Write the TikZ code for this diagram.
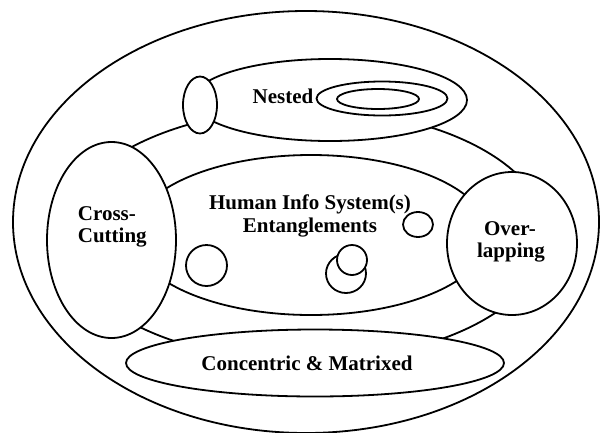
\documentclass[tikz,border=0pt]{standalone}
\usepackage{fontspec}
\setmainfont{Liberation Serif}
\usetikzlibrary{shapes.geometric}
\begin{document}
\begin{tikzpicture}[x=1pt,y=-1pt,
  line width=1.8pt,
  shp/.style={ellipse, draw, fill=white, inner sep=0pt, line width=1.8pt},
  ringline/.style={ellipse, draw, inner sep=0pt, line width=1.8pt},
  lbl/.style={font=\fontsize{21}{23}\selectfont\bfseries, inner sep=0pt},
]
\useasboundingbox (0,0) rectangle (603,432);
% outer boundary and ring
\node[shp, minimum width=586pt, minimum height=422pt] (outer) at (306,222) {};
\node[ringline, minimum width=484pt, minimum height=252pt] (ring) at (305,235) {};
% core
\node[shp, minimum width=356pt, minimum height=160pt] (core) at (311,235) {};
% ring members
\node[shp, minimum width=274pt, minimum height=82pt] (nested) at (330,100) {};
\node[shp, minimum width=34pt, minimum height=57pt] (knot) at (200,105) {};
\node[shp, minimum width=129pt, minimum height=196pt] (cross) at (111.5,240) {};
\node[shp, minimum width=130pt, minimum height=143pt] (over) at (512,243.5) {};
\node[shp, minimum width=378pt, minimum height=67pt] (conc) at (315,363) {};
% nested inner ellipses
\node[shp, minimum width=131pt, minimum height=34pt] (nestA) at (382,98.5) {};
\node[shp, minimum width=82pt, minimum height=20pt] (nestB) at (378,99) {};
% small circles in core
\node[shp, minimum width=41pt, minimum height=41pt] (c1) at (206.5,265.5) {};
\node[shp, minimum width=30pt, minimum height=25pt] (c2) at (418,224.5) {};
\node[shp, minimum width=40pt, minimum height=39pt] (c3) at (346,273.5) {};
\node[shp, minimum width=30pt, minimum height=30pt] (c4) at (352,260) {};
% labels
\node[lbl, anchor=base] (tnested) at (283,103) {Nested};
\node[lbl, anchor=base] (thum1) at (310,209) {Human Info System(s)};
\node[lbl, anchor=base] (thum2) at (310,232) {Entanglements};
\node[lbl, anchor=base west] (tcross1) at (77,220) {Cross-};
\node[lbl, anchor=base west] (tcross2) at (77,242) {Cutting};
\node[lbl, anchor=base] (tover1) at (510,235) {Over-};
\node[lbl, anchor=base] (tover2) at (511,257) {lapping};
\node[lbl, anchor=base] (tconc) at (307,370) {Concentric \& Matrixed};
\end{tikzpicture}
\end{document}
